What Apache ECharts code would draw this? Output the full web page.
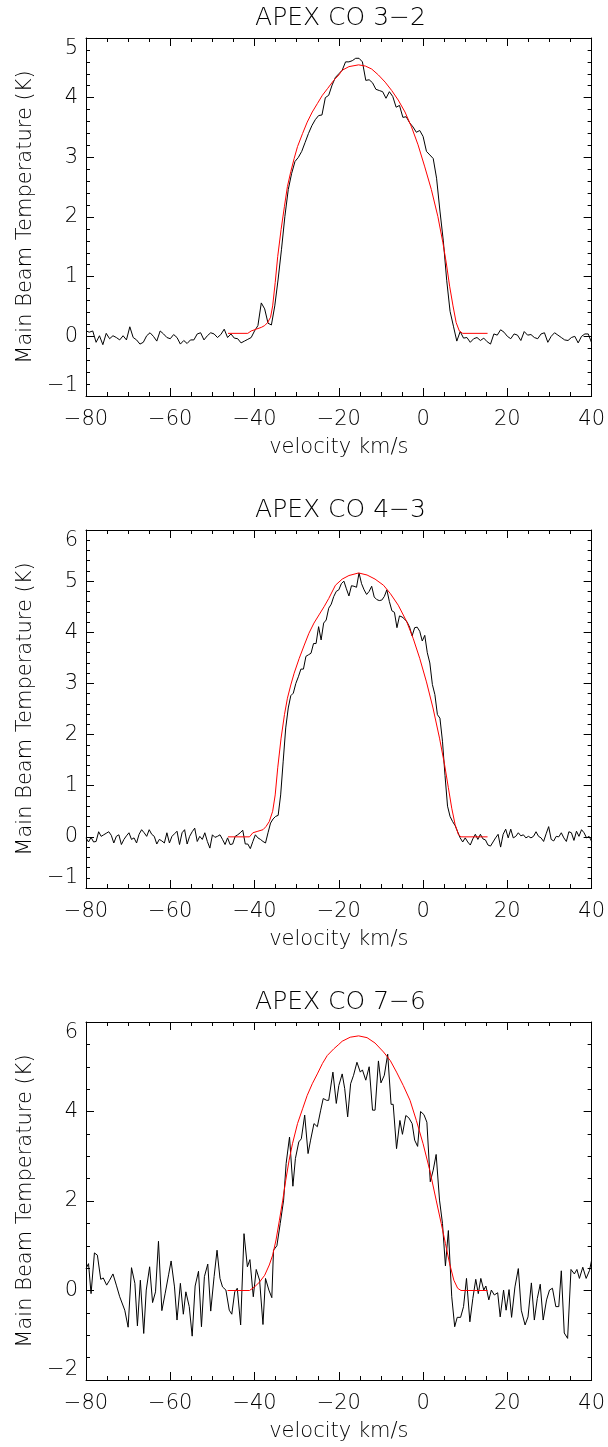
<!DOCTYPE html>
<html><head><meta charset="utf-8">
<script src="https://cdn.jsdelivr.net/npm/echarts@6/dist/echarts.min.js"></script>
<style>html,body{margin:0;padding:0;background:#fff}#c{width:608px;height:1447px}</style>
</head><body><div id="c"></div>
<script>
// ---------- data ----------
const titles = ['APEX CO 3\u22122', 'APEX CO 4\u22123', 'APEX CO 7\u22126'];
const xLabel = 'velocity km/s';
const yLabel = 'Main Beam Temperature (K)';
const xTicks = [-80, -60, -40, -20, 0, 20, 40];
const yTicks1 = [-1, 0, 1, 2, 3, 4, 5];
const yTicks2 = [-1, 0, 1, 2, 3, 4, 5, 6];
const yTicks3 = [-2, 0, 2, 4, 6];

// CO 3-2 spectrum (channel velocity, Tmb)
const velocity1 = [-80,-79.2,-78.4,-77.6,-76.8,-76,-75.2,-74.4,-73.6,-72.8,-72,-71.2,-70.4,-69.6,-68.8,-68,-67.2,-66.4,-65.6,-64.8,-64,-63.2,-62.4,-61.6,-60.8,-60,-59.2,-58.4,-57.6,-56.8,-56,-55.2,-54.4,-53.6,-52.8,-52,-51.2,-50.4,-49.6,-48.8,-48,-47.2,-46.4,-45.6,-44.8,-44,-43.2,-42.4,-41.6,-40.8,-40,-39.2,-38.4,-37.6,-36.8,-36,-35.2,-34.4,-33.6,-32.8,-32,-31.2,-30.4,-29.6,-28.8,-28,-27.2,-26.4,-25.6,-24.8,-24,-23.2,-22.4,-21.6,-20.8,-20,-19.2,-18.4,-17.6,-16.8,-16,-15.2,-14.4,-13.6,-12.8,-12,-11.2,-10.4,-9.6,-8.8,-8,-7.2,-6.4,-5.6,-4.8,-4,-3.2,-2.4,-1.6,-0.8,0,0.8,1.6,2.4,3.2,4,4.8,5.6,6.4,7.2,8,8.8,9.6,10.4,11.2,12,12.8,13.6,14.4,15.2,16,16.8,17.6,18.4,19.2,20,20.8,21.6,22.4,23.2,24,24.8,25.6,26.4,27.2,28,28.8,29.6,30.4,31.2,32,32.8,33.6,34.4,35.2,36,36.8,37.6,38.4,39.2,40];
const tmb1 = [0.09,0.07,0.09,-0.1,0.01,-0.14,0.05,-0.04,0.01,-0.02,
-0.06,0.01,-0.06,0.16,-0.02,-0.06,-0.13,-0.1,0.01,0.06,
0.0,-0.08,0.09,0.04,-0.02,-0.04,0.03,-0.02,-0.13,-0.07,
-0.12,-0.06,-0.06,0.04,0.06,-0.06,0.01,0.06,0.04,-0.02,
0.03,0.12,-0.02,0.04,-0.03,-0.04,-0.11,-0.08,-0.05,-0.02,
0.09,0.18,0.56,0.46,0.22,0.19,0.51,0.96,1.46,2.01,
2.46,2.73,2.93,3.0,3.1,3.25,3.4,3.53,3.63,3.7,
3.71,4.0,4.04,4.21,4.34,4.4,4.46,4.6,4.6,4.62,
4.66,4.66,4.6,4.29,4.3,4.25,4.14,4.12,4.1,3.99,
4.1,4.02,3.84,3.87,3.67,3.68,3.58,3.51,3.42,3.45,
3.35,3.1,3.04,2.98,2.65,2.1,1.6,0.94,0.42,0.17,
-0.08,0.08,-0.03,-0.02,-0.1,-0.04,-0.02,-0.07,-0.03,-0.09,
-0.13,0.04,0.02,0.11,0.07,0.0,-0.04,0.04,0.02,-0.07,
0.08,0.02,0.03,-0.02,-0.04,0.04,0.06,-0.1,0.0,0.06,
0.02,-0.02,-0.06,-0.07,-0.02,0.0,-0.11,0.0,0.04,0.04,-0.11];
const fitVel1 = [-46.3,-41.6,-40.8,-39.6,-38.4,-37.6,-36.9,-36.2,-35.7,-35.1,-34.5,-33.7,-32.9,-32.2,-31.4,-30.6,-29.8,-28.6,-27.5,-26.3,-25.1,-23.9,-22.7,-21.2,-20,-19.2,-17.6,-15.3,-13.7,-12.2,-10.6,-9.0,-7.45,-5.9,-4.3,-2.75,-1.2,0.4,1.96,3.5,4.7,5.5,6.3,7.1,7.85,8.6,9.4,15.3];
const fitTmb1 = [0.05,0.05,0.09,0.12,0.15,0.18,0.23,0.32,0.51,0.9,1.34,1.79,2.18,2.51,2.76,2.98,3.18,3.4,3.59,3.76,3.9,4.04,4.15,4.29,4.38,4.46,4.52,4.55,4.53,4.48,4.38,4.26,4.12,3.96,3.76,3.51,3.21,2.84,2.46,2.01,1.57,1.23,0.84,0.51,0.23,0.09,0.05,0.05];

// CO 4-3 spectrum
const velocity2 = [-80,-79.4,-78.8,-78.2,-77.6,-77,-76.4,-75.8,-75.2,-74.6,-74,-73.4,-72.8,-72.2,-71.6,-71,-70.4,-69.8,-69.2,-68.6,-68,-67.4,-66.8,-66.2,-65.6,-65,-64.4,-63.8,-63.2,-62.6,-62,-61.4,-60.8,-60.2,-59.6,-59,-58.4,-57.8,-57.2,-56.6,-56,-55.4,-54.8,-54.2,-53.6,-53,-52.4,-51.8,-51.2,-50.6,-50,-49.4,-48.8,-48.2,-47.6,-47,-46.4,-45.8,-45.2,-44.6,-44,-43.4,-42.8,-42.2,-41.6,-41,-40.4,-39.8,-39.2,-38.6,-38,-37.4,-36.8,-36.2,-35.6,-35,-34.4,-33.8,-33.2,-32.6,-32,-31.4,-30.8,-30.2,-29.6,-29,-28.4,-27.8,-27.2,-26.6,-26,-25.4,-24.8,-24.2,-23.6,-23,-22.4,-21.8,-21.2,-20.6,-20,-19.4,-18.8,-18.2,-17.6,-17,-16.4,-15.8,-15.2,-14.6,-14,-13.4,-12.8,-12.2,-11.6,-11,-10.4,-9.8,-9.2,-8.6,-8,-7.4,-6.8,-6.2,-5.6,-5,-4.4,-3.8,-3.2,-2.6,-2,-1.4,-0.8,-0.2,0.4,1,1.6,2.2,2.8,3.4,4,4.6,5.2,5.8,6.4,7,7.6,8.2,8.8,9.4,10,10.6,11.2,11.8,12.4,13,13.6,14.2,14.8,15.4,16,16.6,17.2,17.8,18.4,19,19.6,20.2,20.8,21.4,22,22.6,23.2,23.8,24.4,25,25.6,26.2,26.8,27.4,28,28.6,29.2,29.8,30.4,31,31.6,32.2,32.8,33.4,34,34.6,35.2,35.8,36.4,37,37.6,38.2,38.8,39.4,40];
const tmb2 = [-0.02,-0.10,-0.01,-0.10,-0.09,0.10,0.01,0.04,0.07,0.10,
0.03,-0.12,0.01,0.04,-0.15,-0.05,0.02,0.08,-0.05,-0.02,
-0.12,0.05,0.14,0.08,0.01,0.14,0.05,0.01,-0.14,-0.05,
-0.08,-0.12,0.08,-0.12,0.01,0.06,0.11,-0.15,0.08,0.14,
-0.14,0.01,0.10,0.17,-0.09,0.01,-0.05,0.08,-0.09,-0.22,
0.04,-0.01,0.01,0.04,-0.05,-0.15,-0.02,-0.15,-0.14,0.01,
0.04,0.08,0.13,-0.14,-0.14,-0.23,-0.09,0.04,-0.02,-0.05,
-0.09,-0.12,0.08,0.27,0.35,0.40,0.42,0.82,1.48,2.13,
2.52,2.76,2.81,3.0,3.13,3.28,3.28,3.53,3.56,3.59,
3.78,3.78,4.11,3.85,4.18,4.24,4.47,4.55,4.7,4.8,
4.83,4.95,5.0,4.85,4.71,4.91,4.9,4.88,5.16,4.95,
4.83,4.74,4.8,4.9,4.69,4.64,4.62,4.63,4.7,4.83,
4.6,4.42,4.39,4.09,4.32,4.3,4.26,4.2,4.1,3.93,
4.09,4.1,4.02,3.83,3.94,3.6,3.4,2.98,2.78,2.39,
2.32,1.87,1.2,0.6,0.4,0.3,0.22,0.1,-0.02,-0.1,
-0.02,-0.1,-0.16,-0.04,0.05,-0.05,0.05,-0.04,-0.06,-0.16,
-0.18,-0.1,-0.02,0.05,-0.2,0.05,0.15,-0.02,0.15,-0.02,
0.01,0.08,0.02,0.04,-0.02,0.01,-0.02,0.01,0.1,0.01,
-0.02,-0.09,0.06,0.2,-0.05,-0.08,0.01,0.0,0.08,-0.02,
-0.09,0.1,0.08,-0.07,0.11,0.01,0.14,0.08,-0.02,0.01,-0.09];
const fitVel2 = [-46.3,-41.2,-40.4,-39.2,-38,-37.3,-36.5,-35.7,-35.1,-34.5,-33.7,-32.9,-32.2,-31.4,-30.6,-29.4,-28.2,-27.1,-25.9,-24.7,-23.5,-22.4,-20.8,-19.2,-17.6,-15.3,-13.3,-11.4,-9.4,-7.8,-5.9,-3.9,-2.35,-0.8,0.8,2.35,3.9,5.1,6.0,6.8,7.6,8.4,9.0,15.3];
const fitTmb2 = [0,0,0.08,0.11,0.14,0.2,0.3,0.5,0.82,1.35,1.93,2.39,2.71,2.97,3.2,3.49,3.75,3.98,4.18,4.34,4.5,4.66,4.92,5.04,5.11,5.16,5.12,5.04,4.92,4.76,4.53,4.21,3.88,3.49,3.03,2.52,1.93,1.41,0.96,0.56,0.24,0.04,0,0];

// CO 7-6 spectrum
const velocity3 = [-80,-79.4,-78.8,-78.0,-77.3,-76.5,-75.9,-75.1,-74.4,-73.6,-72.8,-72.0,-70.8,-70.0,-69.2,-68.4,-67.8,-67.1,-66.3,-65.7,-64.9,-64.2,-63.5,-62.8,-62.0,-61.2,-60.4,-59.8,-59.0,-58.4,-57.6,-56.9,-56.3,-55.5,-54.8,-54.1,-53.3,-52.6,-51.9,-51.1,-50.4,-49.6,-48.9,-48.2,-47.6,-46.8,-46.0,-45.4,-44.7,-44.1,-43.3,-42.5,-41.7,-41.1,-40.3,-39.6,-38.8,-38.0,-37.4,-36.6,-35.9,-35.5,-34.7,-33.9,-33.1,-32.5,-31.7,-30.9,-30.3,-29.5,-28.9,-28.1,-27.3,-26.7,-25.9,-25.1,-24.3,-23.7,-22.9,
-22.4,-21.4,-20.6,-20.0,-19.2,-18.6,-17.9,-17.2,-16.5,-15.7,-14.9,-14.4,-13.6,-12.8,-12.0,-11.4,-10.6,-10.0,-9.2,-8.4,-7.6,-7.1,-6.3,-5.5,-4.9,-4.1,-3.4,-2.6,-2.0,-1.3,-0.6,0.2,0.9,1.7,2.4,3.1,3.9,4.6,5.3,6.0,6.8,7.5,8.1,8.9,9.6,10.3,11.1,11.8,12.5,13.1,13.7,14.4,14.9,15.6,16.2,16.9,17.7,18.3,19.1,19.7,20.4,21.0,21.8,22.6,23.3,24.2,24.9,25.7,26.4,27.1,27.8,28.5,29.3,30.0,30.7,31.5,32.2,32.8,33.5,34.3,35.1,35.9,36.5,37.1,37.9,38.7,39.5,40.0];
const tmb3 = [0.49,0.6,-0.07,0.84,0.79,0.25,0.28,0.12,0.23,0.37,
0.12,-0.14,-0.44,-0.82,0.51,0.16,-0.79,0.23,-0.96,0.01,
0.53,-0.27,-0.03,1.1,-0.45,-0.06,0.35,0.66,0.08,-0.66,
0.16,-0.53,-0.03,-0.36,-1.02,0.1,0.43,-0.81,0.31,0.59,
-0.46,0.31,0.9,0.27,0.08,0.01,-0.44,-0.53,-0.03,0.05,
-0.77,1.27,0.53,0.69,-0.14,0.47,0.23,-0.76,0.27,0.01,
-0.16,0.9,1.0,1.5,2.02,2.84,3.43,2.33,2.95,3.32,
3.39,3.92,3.06,3.36,3.73,3.66,4.03,4.29,4.25,
4.25,4.88,4.18,4.58,4.84,4.51,3.88,4.62,4.81,5.1,
4.88,4.93,4.7,5.0,4.03,4.03,5.13,4.64,4.81,5.28,
4.16,4.16,3.17,3.8,3.49,3.91,3.86,3.73,3.36,3.22,
4.0,3.93,3.76,2.43,2.69,3.04,2.02,1.5,0.55,1.34,
-0.14,-0.81,-0.6,-0.6,-0.36,0.27,-0.7,-0.18,0.25,-0.07,
0.27,0.01,0.1,-0.21,0.01,-0.1,-0.05,-0.59,0.01,-0.44,
0.02,-0.6,0.08,0.49,-0.44,-0.77,-0.59,0.17,-0.66,-0.18,
0.14,-0.66,-0.21,0.01,0.05,-0.36,-0.36,0.44,-0.95,-1.07,
0.47,0.37,0.47,0.27,0.52,0.27,0.45,0.68];
const fitVel3 = [-46.4,-41.2,-40,-38.8,-37.6,-36.5,-35.7,-34.9,-34.1,-33.3,-32.6,-31.8,-31,-29.8,-28.6,-27.5,-26.3,-25.1,-23.9,-22.75,-21.2,-20,-19.2,-17.3,-15.3,-13.3,-11.4,-9.4,-7.8,-6.3,-4.7,-3.1,-1.6,0,1.6,3.1,4.3,5.3,6.3,7.3,8.2,9,15.3];
const fitTmb3 = [0,0,0.08,0.19,0.34,0.57,0.79,1.13,1.57,2.02,2.46,2.91,3.28,3.73,4.06,4.36,4.62,4.84,5.07,5.25,5.4,5.5,5.57,5.66,5.69,5.65,5.53,5.33,5.14,4.88,4.58,4.25,3.8,3.28,2.68,2.02,1.5,1.05,0.6,0.23,0.05,0,0];

// ---------- chart ----------
const FONT = '"DejaVu Sans", sans-serif';
const FW = 200;
const panels = [
  {title: titles[0], yTicks: yTicks1, yMinor: 5, v: velocity1, t: tmb1, fv: fitVel1, ft: fitTmb1},
  {title: titles[1], yTicks: yTicks2, yMinor: 5, v: velocity2, t: tmb2, fv: fitVel2, ft: fitTmb2},
  {title: titles[2], yTicks: yTicks3, yMinor: 4, v: velocity3, t: tmb3, fv: fitVel3, ft: fitTmb3}
];
const tops = [38, 530, 1022];
const GL = 86, GW = 509, GH = 358;
const zip = (a, b) => a.map((x, i) => [x, b[i]]);
const fmt = v => (v < 0 ? '\u2212' + Math.abs(v) : String(v));
const black = '#000';

const option = {
  backgroundColor: '#fff',
  animation: false,
  title: [], grid: [], xAxis: [], yAxis: [], series: []
};

panels.forEach((p, k) => {
  option.grid.push({left: GL, top: tops[k], width: GW, height: GH, containLabel: false});
  option.title.push({
    text: p.title, left: GL + GW / 2, top: tops[k] - 32, textAlign: 'center', padding: 0,
    textStyle: {fontFamily: FONT, fontSize: 25, fontWeight: FW, color: black}
  });
  const xStep = xTicks[1] - xTicks[0];
  const yStep = p.yTicks[1] - p.yTicks[0];
  const baseX = {
    gridIndex: k, type: 'value', min: xTicks[0], max: xTicks[xTicks.length - 1], interval: xStep,
    axisLine: {show: true, onZero: false, lineStyle: {color: black, width: 1}},
    axisTick: {show: true, inside: true, length: 8, lineStyle: {color: black, width: 1}},
    minorTick: {show: true, splitNumber: 4, length: 4, lineStyle: {color: black, width: 1}},
    splitLine: {show: false}, minorSplitLine: {show: false}
  };
  option.xAxis.push(Object.assign({}, baseX, {
    position: 'bottom',
    axisLabel: {show: true, color: black, fontFamily: FONT, fontWeight: FW, fontSize: 21, margin: 13, formatter: fmt},
    name: xLabel, nameLocation: 'middle', nameGap: 41,
    nameTextStyle: {fontFamily: FONT, fontWeight: FW, fontSize: 21, color: black}
  }));
  option.xAxis.push(Object.assign({}, baseX, {position: 'top', axisLabel: {show: false}}));
  const baseY = {
    gridIndex: k, type: 'value', min: p.yTicks[0], max: p.yTicks[p.yTicks.length - 1], interval: yStep,
    axisLine: {show: true, onZero: false, lineStyle: {color: black, width: 1}},
    axisTick: {show: true, inside: true, length: 8, lineStyle: {color: black, width: 1}},
    minorTick: {show: true, splitNumber: p.yMinor, length: 4, lineStyle: {color: black, width: 1}},
    splitLine: {show: false}, minorSplitLine: {show: false}
  };
  option.yAxis.push(Object.assign({}, baseY, {
    position: 'left',
    axisLabel: {show: true, color: black, fontFamily: FONT, fontWeight: FW, fontSize: 21, margin: 8, formatter: fmt,
      verticalAlignMinLabel: 'bottom', verticalAlignMaxLabel: 'top'},
    name: yLabel, nameLocation: 'middle', nameGap: 48, nameRotate: 90,
    nameTextStyle: {fontFamily: FONT, fontWeight: FW, fontSize: 21, color: black}
  }));
  option.yAxis.push(Object.assign({}, baseY, {position: 'right', axisLabel: {show: false}}));

  option.series.push({
    type: 'line', xAxisIndex: 2 * k, yAxisIndex: 2 * k, data: zip(p.v, p.t),
    showSymbol: false, symbol: 'none', lineStyle: {color: black, width: 1}, z: 2
  });
  option.series.push({
    type: 'line', xAxisIndex: 2 * k, yAxisIndex: 2 * k, data: zip(p.fv, p.ft),
    showSymbol: false, symbol: 'none', lineStyle: {color: '#ff0000', width: 1}, z: 3
  });
});

const chart = echarts.init(document.getElementById('c'), null, {renderer: 'canvas'});
chart.setOption(option);
</script>
</body></html>
